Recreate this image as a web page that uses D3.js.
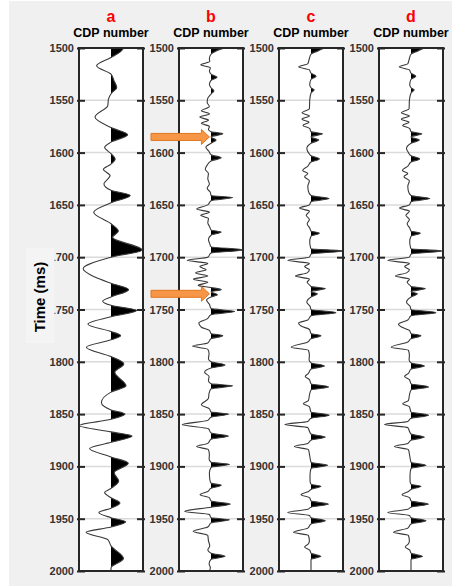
<!DOCTYPE html>
<html>
<head>
<meta charset="utf-8">
<script src="https://cdn.jsdelivr.net/npm/d3@7"></script>
<style>
    html, body { margin: 0; padding: 0; background: #fff; }
    svg { display: block; font-family: "Liberation Sans", Arial, sans-serif; }
</style>
</head>
<body>
<div id="chart"></div>
<script>
// Data: one trace per panel, [time ms, amplitude]
const panelNames = ['a', 'b', 'c', 'd'];
const xLabel = 'CDP number';
const yLabel = 'Time (ms)';
const timeTicks = [1500, 1550, 1600, 1650, 1700, 1750, 1800, 1850, 1900, 1950, 2000];
const arrowTimes = [1585, 1735];

const traceA = [
    [1500, 0.40], [1504, 0.28], [1509, 0], [1517, -0.45], [1525, 0], [1531, 0.09],
    [1538, 0.18], [1543, 0.02], [1549, -0.08], [1555, -0.1], [1566, -0.5], [1576, 0],
    [1583, 0.52], [1590, 0], [1595, -0.2], [1601, 0], [1606, 0.13], [1611, 0],
    [1616, -0.24], [1622, -0.03], [1630, -0.22], [1636, 0], [1641, 0.6], [1648, 0],
    [1657, -0.54], [1668, 0], [1675, 0.23], [1681, 0.05], [1693, 0.97], [1700, 0],
    [1711, -0.87], [1719, -0.5], [1725, 0], [1731, 0.55], [1738, 0], [1742, -0.26],
    [1746, 0], [1751, 0.8], [1757, 0], [1764, -0.72], [1771, 0], [1775, 0.3],
    [1779, 0], [1786, -0.77], [1795, 0], [1802, 0.4], [1810, 0.12], [1823, 0.47],
    [1829, 0], [1839, -0.3], [1846, 0], [1850, 0.44], [1855, 0], [1861, -1.0],
    [1867, 0], [1871, 0.66], [1877, 0], [1883, -0.67], [1891, 0], [1897, 0.54],
    [1906, 0.1], [1914, 0.24], [1921, 0], [1925, -0.2], [1930, 0], [1935, 0.28],
    [1940, 0], [1944, -0.38], [1949, 0], [1953, 0.46], [1958, 0], [1963, -0.78],
    [1970, -0.1], [1976, 0], [1988, 0.39], [1997, 0], [2000, 0]
];

const traceB = [
    [1500, 0.42], [1503, 0.15], [1506, 0], [1510, -0.05], [1513, -0.04], [1516, -0.32],
    [1519, -0.02], [1522, -0.05], [1525, 0], [1528, 0.19], [1531, 0], [1535, -0.05],
    [1538, 0], [1541, 0.09], [1544, 0], [1548, -0.1], [1552, -0.12], [1556, -0.05],
    [1560, -0.3], [1563, -0.05], [1566, -0.35], [1569, -0.08], [1572, -0.3], [1575, -0.05],
    [1578, -0.08], [1580, 0], [1582, 0.37], [1585, 0], [1588, 0.16], [1591, 0],
    [1595, -0.16], [1599, -0.06], [1602, 0], [1605, 0.32], [1608, 0], [1612, -0.12],
    [1616, -0.18], [1620, -0.08], [1625, -0.1], [1630, -0.05], [1634, -0.12], [1638, -0.02],
    [1641, 0], [1643, 0.68], [1646, 0], [1650, -0.1], [1654, -0.45], [1657, -0.05],
    [1660, -0.32], [1663, -0.08], [1667, -0.1], [1671, -0.04], [1674, 0], [1676, 0.32],
    [1679, 0], [1683, -0.08], [1687, -0.04], [1690, 0], [1693, 1.0], [1696, 0],
    [1700, -0.1], [1703, -0.75], [1706, -0.1], [1709, -0.35], [1712, -0.15], [1715, -0.48],
    [1718, -0.1], [1721, -0.55], [1724, -0.1], [1727, -0.4], [1729, 0], [1731, 0.32],
    [1733, 0], [1736, 0.2], [1738, 0], [1741, -0.14], [1745, -0.05], [1749, 0],
    [1752, 0.74], [1755, 0], [1759, -0.12], [1763, -0.38], [1767, -0.3], [1770, -0.05],
    [1773, 0], [1775, 0.37], [1778, 0], [1782, -0.1], [1785, -0.58], [1788, -0.1],
    [1792, -0.06], [1797, -0.08], [1800, 0], [1803, 0.44], [1806, 0], [1810, -0.2],
    [1814, -0.06], [1818, -0.08], [1821, 0], [1823, 0.68], [1826, 0], [1830, -0.06],
    [1835, -0.08], [1841, -0.3], [1845, -0.05], [1848, 0], [1850, 0.55], [1853, 0],
    [1856, -0.1], [1860, -0.9], [1864, -0.08], [1868, 0], [1871, 0.55], [1874, 0],
    [1878, -0.1], [1881, -0.45], [1884, -0.08], [1889, -0.05], [1893, -0.06], [1896, 0],
    [1898, 0.58], [1901, 0], [1906, -0.05], [1912, -0.04], [1916, 0], [1918, 0.32],
    [1921, 0], [1924, -0.1], [1927, -0.34], [1930, -0.05], [1933, 0], [1936, 0.61],
    [1939, 0], [1943, -0.82], [1946, -0.05], [1949, 0], [1951, 0.58], [1954, 0],
    [1958, -0.1], [1962, -0.56], [1966, -0.1], [1971, -0.08], [1976, -0.04], [1980, -0.1],
    [1983, 0], [1986, 0.44], [1989, 0], [1993, -0.06], [1997, -0.02], [2000, -0.05]
];

const traceC = [
    [1500, 0.42], [1503, 0.2], [1506, 0], [1510, -0.05], [1515, -0.1], [1518, -0.39],
    [1521, -0.05], [1524, 0], [1527, 0.16], [1530, 0], [1535, -0.04], [1538, 0],
    [1540, 0.1], [1543, 0], [1550, -0.04], [1558, -0.05], [1562, -0.28], [1565, -0.05],
    [1568, -0.28], [1571, -0.06], [1574, -0.25], [1577, -0.04], [1580, 0], [1582, 0.36],
    [1585, 0], [1588, 0.24], [1591, 0], [1596, -0.13], [1600, -0.08], [1603, 0],
    [1606, 0.26], [1609, 0], [1613, -0.1], [1617, -0.26], [1620, -0.1], [1623, -0.2],
    [1627, -0.05], [1632, -0.1], [1637, -0.08], [1641, 0], [1644, 0.57], [1647, 0],
    [1650, -0.05], [1653, -0.36], [1656, -0.05], [1660, -0.15], [1664, -0.05], [1668, -0.12],
    [1672, -0.04], [1675, 0], [1677, 0.26], [1680, 0], [1685, -0.04], [1690, -0.02],
    [1692, 0], [1694, 0.99], [1697, 0], [1700, -0.05], [1703, -0.73], [1706, -0.05],
    [1709, -0.2], [1712, -0.05], [1715, -0.12], [1718, -0.49], [1721, -0.05], [1724, -0.12],
    [1727, -0.03], [1728, 0], [1730, 0.45], [1733, 0], [1735, 0.2], [1738, 0],
    [1743, -0.13], [1747, -0.03], [1750, 0], [1753, 0.78], [1756, 0], [1760, -0.1],
    [1763, -0.39], [1766, -0.3], [1769, -0.05], [1773, 0], [1775, 0.31], [1778, 0],
    [1781, -0.1], [1786, -0.62], [1789, -0.08], [1794, -0.05], [1798, -0.06], [1801, 0],
    [1804, 0.42], [1807, 0], [1811, -0.08], [1814, -0.18], [1817, -0.05], [1821, 0],
    [1824, 0.55], [1827, 0], [1832, -0.05], [1837, -0.08], [1840, -0.24], [1843, -0.05],
    [1848, 0], [1851, 0.57], [1854, 0], [1857, -0.1], [1860, -0.82], [1863, -0.1],
    [1867, -0.04], [1869, 0], [1872, 0.45], [1875, 0], [1878, -0.1], [1881, -0.52],
    [1884, -0.08], [1890, -0.04], [1896, 0], [1899, 0.52], [1902, 0], [1908, -0.03],
    [1914, -0.03], [1917, 0], [1919, 0.31], [1922, 0], [1924, -0.08], [1927, -0.31],
    [1930, -0.04], [1933, 0], [1936, 0.55], [1939, 0], [1941, -0.1], [1944, -0.73],
    [1947, -0.05], [1949, 0], [1952, 0.45], [1955, 0], [1959, -0.1], [1963, -0.55],
    [1966, -0.08], [1971, -0.05], [1974, -0.08], [1977, -0.2], [1980, -0.04], [1983, 0],
    [1986, 0.31], [1989, 0], [1995, 0], [2000, 0]
];

const traceD = [
    [1500, 0.42], [1503, 0.2], [1506, 0], [1510, -0.05], [1515, -0.1], [1518, -0.37],
    [1521, -0.05], [1524, 0], [1527, 0.15], [1530, 0], [1535, -0.04], [1538, 0],
    [1540, 0.1], [1543, 0], [1550, -0.05], [1558, -0.06], [1562, -0.3], [1565, -0.05],
    [1568, -0.3], [1571, -0.06], [1574, -0.26], [1577, -0.04], [1580, 0], [1582, 0.34],
    [1585, 0], [1588, 0.26], [1591, 0], [1596, -0.14], [1600, -0.08], [1603, 0],
    [1606, 0.27], [1609, 0], [1613, -0.1], [1617, -0.27], [1620, -0.1], [1623, -0.22],
    [1627, -0.05], [1632, -0.1], [1637, -0.08], [1641, 0], [1644, 0.59], [1647, 0],
    [1650, -0.05], [1653, -0.36], [1656, -0.05], [1660, -0.16], [1664, -0.05], [1668, -0.12],
    [1672, -0.04], [1675, 0], [1677, 0.29], [1680, 0], [1685, -0.04], [1690, -0.02],
    [1692, 0], [1694, 0.97], [1697, 0], [1700, -0.05], [1703, -0.73], [1706, -0.05],
    [1709, -0.2], [1712, -0.05], [1715, -0.14], [1718, -0.49], [1721, -0.05], [1724, -0.12],
    [1727, -0.03], [1728, 0], [1730, 0.45], [1733, 0], [1735, 0.2], [1738, 0],
    [1743, -0.14], [1747, -0.03], [1750, 0], [1753, 0.78], [1756, 0], [1760, -0.1],
    [1764, -0.39], [1767, -0.28], [1770, -0.05], [1773, 0], [1775, 0.31], [1778, 0],
    [1781, -0.1], [1786, -0.62], [1789, -0.08], [1794, -0.05], [1798, -0.06], [1801, 0],
    [1804, 0.42], [1807, 0], [1811, -0.08], [1814, -0.2], [1817, -0.05], [1821, 0],
    [1824, 0.55], [1827, 0], [1832, -0.05], [1837, -0.08], [1840, -0.26], [1843, -0.05],
    [1848, 0], [1851, 0.55], [1854, 0], [1857, -0.1], [1860, -0.83], [1863, -0.1],
    [1867, -0.04], [1869, 0], [1872, 0.42], [1875, 0], [1878, -0.1], [1881, -0.52],
    [1884, -0.08], [1890, -0.04], [1896, 0], [1899, 0.47], [1902, 0], [1908, -0.03],
    [1914, -0.03], [1917, 0], [1919, 0.31], [1922, 0], [1924, -0.08], [1927, -0.28],
    [1930, -0.04], [1933, 0], [1936, 0.55], [1939, 0], [1941, -0.1], [1944, -0.73],
    [1947, -0.05], [1949, 0], [1952, 0.47], [1955, 0], [1959, -0.1], [1963, -0.55],
    [1966, -0.08], [1971, -0.05], [1974, -0.08], [1977, -0.18], [1980, -0.04], [1983, 0],
    [1986, 0.36], [1989, 0], [1995, 0], [2000, 0]
];

const traces = [traceA, traceB, traceC, traceD];

// Layout
const width = 452;
const height = 587;
const margin = {top: 48, right: 9, bottom: 16, left: 79};
const panelWidth = 64;

// extractors
const getTime = d => d[0];
const getAmp = d => d[1];

const svg = d3.select('#chart')
  .append('svg')
    .attr('width', width)
    .attr('height', height);

svg.append('rect')
    .attr('x', 9)
    .attr('y', 1)
    .attr('width', width - 9)
    .attr('height', height - 2)
    .attr('fill', '#f0f0f0');

const panelScale = d3.scaleBand()
    .domain(panelNames)
    .range([margin.left, margin.left + 3 * 100 + panelWidth])
    .paddingInner(0.36);

const yScale = d3.scaleLinear()
    .domain([1500, 2000])
    .range([margin.top, height - margin.bottom]);

const defs = svg.append('defs');

panelNames.forEach((name, i) => {
    const x0 = panelScale(name);
    const bw = panelScale.bandwidth();
    const xScale = d3.scaleLinear()
        .domain([-1, 1])
        .range([x0, x0 + bw]);
    const data = traces[i];

    const g = svg.append('g').classed('panel panel-' + name, true);

    // plot area
    g.append('rect')
        .attr('x', x0)
        .attr('y', yScale(1500))
        .attr('width', bw)
        .attr('height', yScale(2000) - yScale(1500))
        .attr('fill', '#fff');

    // grid
    g.selectAll('.grid')
        .data(timeTicks.slice(1, -1))
      .enter().append('line')
        .classed('grid', true)
        .attr('x1', x0)
        .attr('x2', x0 + bw)
        .attr('y1', d => yScale(d))
        .attr('y2', d => yScale(d))
        .attr('stroke', '#dadada')
        .attr('stroke-width', 1.5);

    // positive lobes filled black
    defs.append('clipPath')
        .attr('id', 'clip-' + name)
      .append('rect')
        .attr('x', xScale(0))
        .attr('y', yScale(1500))
        .attr('width', xScale(1) - xScale(0))
        .attr('height', yScale(2000) - yScale(1500));

    const area = d3.area()
        .y(d => yScale(getTime(d)))
        .x0(xScale(0))
        .x1(d => xScale(getAmp(d)))
        .curve(d3.curveMonotoneY);

    g.append('path')
        .datum(data)
        .attr('clip-path', 'url(#clip-' + name + ')')
        .attr('d', area)
        .attr('fill', '#000');

    const line = d3.line()
        .y(d => yScale(getTime(d)))
        .x(d => xScale(getAmp(d)))
        .curve(d3.curveMonotoneY);

    g.append('path')
        .datum(data)
        .attr('d', line)
        .attr('fill', 'none')
        .attr('stroke', '#3a3a3a')
        .attr('stroke-width', 1.1);

    // axes
    const leftAxis = d3.axisLeft(yScale)
        .tickValues(timeTicks)
        .tickSizeInner(-8)
        .tickSizeOuter(0)
        .tickPadding(3)
        .tickFormat(d3.format('d'));

    const rightAxis = d3.axisRight(yScale)
        .tickValues(timeTicks)
        .tickSizeInner(-8)
        .tickSizeOuter(0)
        .tickFormat('');

    const ga = g.append('g')
        .attr('transform', `translate(${x0 - 2},0)`)
        .call(leftAxis);
    const gb = g.append('g')
        .attr('transform', `translate(${x0 + bw + 2},0)`)
        .call(rightAxis);

    [ga, gb].forEach(ax => {
        ax.select('.domain').remove();
        ax.selectAll('.tick line')
            .attr('stroke', '#262626')
            .attr('stroke-width', 2);
    });
    ga.selectAll('.tick text')
        .attr('fill', '#333')
        .style('font-size', '11px')
        .style('font-weight', 'bold');

    // frame
    g.append('rect')
        .attr('x', x0)
        .attr('y', yScale(1500))
        .attr('width', bw)
        .attr('height', yScale(2000) - yScale(1500))
        .attr('fill', 'none')
        .attr('stroke', '#262626')
        .attr('stroke-width', 2);

    // titles
    g.append('text')
        .attr('x', x0 + bw / 2)
        .attr('y', 22)
        .attr('text-anchor', 'middle')
        .attr('fill', '#f00')
        .style('font-size', '16px')
        .style('font-weight', 'bold')
        .text(name);

    g.append('text')
        .attr('x', x0 + bw / 2)
        .attr('y', 37)
        .attr('text-anchor', 'middle')
        .attr('fill', '#000')
        .style('font-size', '12.5px')
        .style('font-weight', 'bold')
        .text(xLabel);

    // arrows pointing at events in panel b
    if (name === 'b') {
        const tipX = xScale(-0.05);
        const tailX = x0 - 28;
        const headX = tipX - 8;
        g.selectAll('.arrow')
            .data(arrowTimes)
          .enter().append('path')
            .classed('arrow', true)
            .attr('d', t => {
                const y = yScale(t);
                return `M${tailX},${y - 3.5}H${headX}V${y - 7.5}L${tipX},${y}` +
                    `L${headX},${y + 7.5}V${y + 3.5}H${tailX}Z`;
            })
            .attr('fill', '#f79646')
            .attr('stroke', '#e0761f')
            .attr('stroke-width', 1);
    }
});

// y label sits on a lighter box, over part of the first tick labels
svg.append('rect')
    .attr('x', 26)
    .attr('y', 248)
    .attr('width', 28.5)
    .attr('height', 95)
    .attr('fill', '#f4f4f4');

svg.append('text')
    .attr('transform', 'translate(45,297) rotate(-90)')
    .attr('text-anchor', 'middle')
    .attr('fill', '#000')
    .style('font-size', '15px')
    .style('font-weight', 'bold')
    .text(yLabel);
</script>
</body>
</html>
